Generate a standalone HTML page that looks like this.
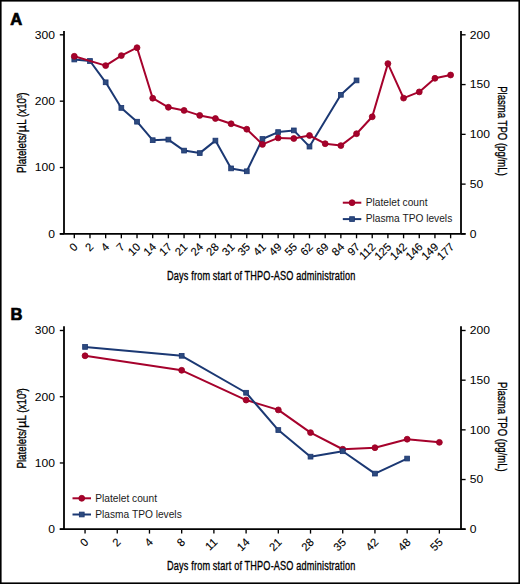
<!DOCTYPE html>
<html><head><meta charset="utf-8"><style>
html,body{margin:0;padding:0;background:#fff;}
body{width:520px;height:584px;overflow:hidden;}
svg{display:block;}
text{font-family:"Liberation Sans",sans-serif;fill:#000;}
.tk{font-size:11px;}
.tr{font-size:11.2px;stroke:#000;stroke-width:0.12;}
.lg{font-size:10.2px;fill:#1a1a1a;}
.ti{font-size:13px;stroke:#000;stroke-width:0.35;}
.sup{font-size:8px;stroke-width:0.2;}
.pl{font-size:16.6px;font-weight:bold;stroke:#000;stroke-width:0.7;}
</style></head><body>
<svg width="520" height="584" viewBox="0 0 520 584">
<rect x="0" y="0" width="520" height="584" fill="#fff"/>
<line x1="64" y1="31" x2="64" y2="233.9" stroke="#000" stroke-width="1.8"/>
<line x1="461" y1="31" x2="461" y2="233.9" stroke="#000" stroke-width="1.8"/>
<line x1="59.8" y1="233.9" x2="465.6" y2="233.9" stroke="#000" stroke-width="1.8"/>
<line x1="59.8" y1="34.8" x2="64" y2="34.8" stroke="#000" stroke-width="1.35"/>
<text class="tk" x="0" y="0" text-anchor="end" transform="translate(55.0 38.70) scale(1.1 1)">300</text>
<line x1="59.8" y1="101.17" x2="64" y2="101.17" stroke="#000" stroke-width="1.35"/>
<text class="tk" x="0" y="0" text-anchor="end" transform="translate(55.0 105.07) scale(1.1 1)">200</text>
<line x1="59.8" y1="167.53" x2="64" y2="167.53" stroke="#000" stroke-width="1.35"/>
<text class="tk" x="0" y="0" text-anchor="end" transform="translate(55.0 171.43) scale(1.1 1)">100</text>
<line x1="59.8" y1="233.9" x2="64" y2="233.9" stroke="#000" stroke-width="1.35"/>
<text class="tk" x="0" y="0" text-anchor="end" transform="translate(55.0 237.80) scale(1.1 1)">0</text>
<line x1="461" y1="34.8" x2="465.6" y2="34.8" stroke="#000" stroke-width="1.35"/>
<text class="tk" x="0" y="0" transform="translate(469.8 38.70) scale(1.1 1)">200</text>
<line x1="461" y1="84.57" x2="465.6" y2="84.57" stroke="#000" stroke-width="1.35"/>
<text class="tk" x="0" y="0" transform="translate(469.8 88.47) scale(1.1 1)">150</text>
<line x1="461" y1="134.35" x2="465.6" y2="134.35" stroke="#000" stroke-width="1.35"/>
<text class="tk" x="0" y="0" transform="translate(469.8 138.25) scale(1.1 1)">100</text>
<line x1="461" y1="184.12" x2="465.6" y2="184.12" stroke="#000" stroke-width="1.35"/>
<text class="tk" x="0" y="0" transform="translate(469.8 188.02) scale(1.1 1)">50</text>
<line x1="461" y1="233.9" x2="465.6" y2="233.9" stroke="#000" stroke-width="1.35"/>
<text class="tk" x="0" y="0" transform="translate(469.8 237.80) scale(1.1 1)">0</text>
<line x1="74.30" y1="233.9" x2="74.30" y2="238.30" stroke="#000" stroke-width="1.35"/>
<text class="tr" x="78.50" y="247.60" text-anchor="end" transform="rotate(-45 78.50 247.60)">0</text>
<line x1="89.98" y1="233.9" x2="89.98" y2="238.30" stroke="#000" stroke-width="1.35"/>
<text class="tr" x="94.18" y="247.60" text-anchor="end" transform="rotate(-45 94.18 247.60)">2</text>
<line x1="105.66" y1="233.9" x2="105.66" y2="238.30" stroke="#000" stroke-width="1.35"/>
<text class="tr" x="109.86" y="247.60" text-anchor="end" transform="rotate(-45 109.86 247.60)">4</text>
<line x1="121.34" y1="233.9" x2="121.34" y2="238.30" stroke="#000" stroke-width="1.35"/>
<text class="tr" x="125.54" y="247.60" text-anchor="end" transform="rotate(-45 125.54 247.60)">7</text>
<line x1="137.02" y1="233.9" x2="137.02" y2="238.30" stroke="#000" stroke-width="1.35"/>
<text class="tr" x="141.22" y="247.60" text-anchor="end" transform="rotate(-45 141.22 247.60)">10</text>
<line x1="152.70" y1="233.9" x2="152.70" y2="238.30" stroke="#000" stroke-width="1.35"/>
<text class="tr" x="156.90" y="247.60" text-anchor="end" transform="rotate(-45 156.90 247.60)">14</text>
<line x1="168.38" y1="233.9" x2="168.38" y2="238.30" stroke="#000" stroke-width="1.35"/>
<text class="tr" x="172.58" y="247.60" text-anchor="end" transform="rotate(-45 172.58 247.60)">17</text>
<line x1="184.06" y1="233.9" x2="184.06" y2="238.30" stroke="#000" stroke-width="1.35"/>
<text class="tr" x="188.26" y="247.60" text-anchor="end" transform="rotate(-45 188.26 247.60)">21</text>
<line x1="199.74" y1="233.9" x2="199.74" y2="238.30" stroke="#000" stroke-width="1.35"/>
<text class="tr" x="203.94" y="247.60" text-anchor="end" transform="rotate(-45 203.94 247.60)">24</text>
<line x1="215.42" y1="233.9" x2="215.42" y2="238.30" stroke="#000" stroke-width="1.35"/>
<text class="tr" x="219.62" y="247.60" text-anchor="end" transform="rotate(-45 219.62 247.60)">28</text>
<line x1="231.10" y1="233.9" x2="231.10" y2="238.30" stroke="#000" stroke-width="1.35"/>
<text class="tr" x="235.30" y="247.60" text-anchor="end" transform="rotate(-45 235.30 247.60)">31</text>
<line x1="246.78" y1="233.9" x2="246.78" y2="238.30" stroke="#000" stroke-width="1.35"/>
<text class="tr" x="250.98" y="247.60" text-anchor="end" transform="rotate(-45 250.98 247.60)">35</text>
<line x1="262.46" y1="233.9" x2="262.46" y2="238.30" stroke="#000" stroke-width="1.35"/>
<text class="tr" x="266.66" y="247.60" text-anchor="end" transform="rotate(-45 266.66 247.60)">41</text>
<line x1="278.14" y1="233.9" x2="278.14" y2="238.30" stroke="#000" stroke-width="1.35"/>
<text class="tr" x="282.34" y="247.60" text-anchor="end" transform="rotate(-45 282.34 247.60)">49</text>
<line x1="293.82" y1="233.9" x2="293.82" y2="238.30" stroke="#000" stroke-width="1.35"/>
<text class="tr" x="298.02" y="247.60" text-anchor="end" transform="rotate(-45 298.02 247.60)">55</text>
<line x1="309.50" y1="233.9" x2="309.50" y2="238.30" stroke="#000" stroke-width="1.35"/>
<text class="tr" x="313.70" y="247.60" text-anchor="end" transform="rotate(-45 313.70 247.60)">62</text>
<line x1="325.18" y1="233.9" x2="325.18" y2="238.30" stroke="#000" stroke-width="1.35"/>
<text class="tr" x="329.38" y="247.60" text-anchor="end" transform="rotate(-45 329.38 247.60)">69</text>
<line x1="340.86" y1="233.9" x2="340.86" y2="238.30" stroke="#000" stroke-width="1.35"/>
<text class="tr" x="345.06" y="247.60" text-anchor="end" transform="rotate(-45 345.06 247.60)">84</text>
<line x1="356.54" y1="233.9" x2="356.54" y2="238.30" stroke="#000" stroke-width="1.35"/>
<text class="tr" x="360.74" y="247.60" text-anchor="end" transform="rotate(-45 360.74 247.60)">97</text>
<line x1="372.22" y1="233.9" x2="372.22" y2="238.30" stroke="#000" stroke-width="1.35"/>
<text class="tr" x="376.42" y="247.60" text-anchor="end" transform="rotate(-45 376.42 247.60)">112</text>
<line x1="387.90" y1="233.9" x2="387.90" y2="238.30" stroke="#000" stroke-width="1.35"/>
<text class="tr" x="392.10" y="247.60" text-anchor="end" transform="rotate(-45 392.10 247.60)">125</text>
<line x1="403.58" y1="233.9" x2="403.58" y2="238.30" stroke="#000" stroke-width="1.35"/>
<text class="tr" x="407.78" y="247.60" text-anchor="end" transform="rotate(-45 407.78 247.60)">142</text>
<line x1="419.26" y1="233.9" x2="419.26" y2="238.30" stroke="#000" stroke-width="1.35"/>
<text class="tr" x="423.46" y="247.60" text-anchor="end" transform="rotate(-45 423.46 247.60)">146</text>
<line x1="434.94" y1="233.9" x2="434.94" y2="238.30" stroke="#000" stroke-width="1.35"/>
<text class="tr" x="439.14" y="247.60" text-anchor="end" transform="rotate(-45 439.14 247.60)">149</text>
<line x1="450.62" y1="233.9" x2="450.62" y2="238.30" stroke="#000" stroke-width="1.35"/>
<text class="tr" x="454.82" y="247.60" text-anchor="end" transform="rotate(-45 454.82 247.60)">177</text>
<path d="M74.30,59.50 L89.98,61.00 L105.66,82.30 L121.34,107.90 L137.02,121.70 L152.70,140.20 L168.38,139.60 L184.06,150.60 L199.74,153.10 L215.42,140.60 L231.10,168.40 L246.78,171.30 L262.46,139.00 L278.14,132.10 L293.82,130.40 L309.50,146.60 L340.86,94.80 L356.54,80.40" fill="none" stroke="#1B3873" stroke-width="2.0" stroke-linejoin="round"/>
<rect x="71.90" y="57.10" width="4.8" height="4.8" fill="#2D4A7E" stroke="#1B3671" stroke-width="0.8"/>
<rect x="87.58" y="58.60" width="4.8" height="4.8" fill="#2D4A7E" stroke="#1B3671" stroke-width="0.8"/>
<rect x="103.26" y="79.90" width="4.8" height="4.8" fill="#2D4A7E" stroke="#1B3671" stroke-width="0.8"/>
<rect x="118.94" y="105.50" width="4.8" height="4.8" fill="#2D4A7E" stroke="#1B3671" stroke-width="0.8"/>
<rect x="134.62" y="119.30" width="4.8" height="4.8" fill="#2D4A7E" stroke="#1B3671" stroke-width="0.8"/>
<rect x="150.30" y="137.80" width="4.8" height="4.8" fill="#2D4A7E" stroke="#1B3671" stroke-width="0.8"/>
<rect x="165.98" y="137.20" width="4.8" height="4.8" fill="#2D4A7E" stroke="#1B3671" stroke-width="0.8"/>
<rect x="181.66" y="148.20" width="4.8" height="4.8" fill="#2D4A7E" stroke="#1B3671" stroke-width="0.8"/>
<rect x="197.34" y="150.70" width="4.8" height="4.8" fill="#2D4A7E" stroke="#1B3671" stroke-width="0.8"/>
<rect x="213.02" y="138.20" width="4.8" height="4.8" fill="#2D4A7E" stroke="#1B3671" stroke-width="0.8"/>
<rect x="228.70" y="166.00" width="4.8" height="4.8" fill="#2D4A7E" stroke="#1B3671" stroke-width="0.8"/>
<rect x="244.38" y="168.90" width="4.8" height="4.8" fill="#2D4A7E" stroke="#1B3671" stroke-width="0.8"/>
<rect x="260.06" y="136.60" width="4.8" height="4.8" fill="#2D4A7E" stroke="#1B3671" stroke-width="0.8"/>
<rect x="275.74" y="129.70" width="4.8" height="4.8" fill="#2D4A7E" stroke="#1B3671" stroke-width="0.8"/>
<rect x="291.42" y="128.00" width="4.8" height="4.8" fill="#2D4A7E" stroke="#1B3671" stroke-width="0.8"/>
<rect x="307.10" y="144.20" width="4.8" height="4.8" fill="#2D4A7E" stroke="#1B3671" stroke-width="0.8"/>
<rect x="338.46" y="92.40" width="4.8" height="4.8" fill="#2D4A7E" stroke="#1B3671" stroke-width="0.8"/>
<rect x="354.14" y="78.00" width="4.8" height="4.8" fill="#2D4A7E" stroke="#1B3671" stroke-width="0.8"/>
<path d="M74.30,56.30 L105.66,65.60 L121.34,55.60 L137.02,47.70 L152.70,98.20 L168.38,107.30 L184.06,110.40 L199.74,115.40 L215.42,118.50 L231.10,123.80 L246.78,129.20 L262.46,144.40 L278.14,137.90 L293.82,138.50 L309.50,135.50 L325.18,143.70 L340.86,145.60 L356.54,133.70 L372.22,116.80 L387.90,63.60 L403.58,98.10 L419.26,91.90 L434.94,78.30 L450.62,75.00" fill="none" stroke="#A6022C" stroke-width="2.0" stroke-linejoin="round"/>
<circle cx="74.30" cy="56.30" r="2.95" fill="#A5022D" stroke="#9A0020" stroke-width="0.8"/>
<circle cx="105.66" cy="65.60" r="2.95" fill="#A5022D" stroke="#9A0020" stroke-width="0.8"/>
<circle cx="121.34" cy="55.60" r="2.95" fill="#A5022D" stroke="#9A0020" stroke-width="0.8"/>
<circle cx="137.02" cy="47.70" r="2.95" fill="#A5022D" stroke="#9A0020" stroke-width="0.8"/>
<circle cx="152.70" cy="98.20" r="2.95" fill="#A5022D" stroke="#9A0020" stroke-width="0.8"/>
<circle cx="168.38" cy="107.30" r="2.95" fill="#A5022D" stroke="#9A0020" stroke-width="0.8"/>
<circle cx="184.06" cy="110.40" r="2.95" fill="#A5022D" stroke="#9A0020" stroke-width="0.8"/>
<circle cx="199.74" cy="115.40" r="2.95" fill="#A5022D" stroke="#9A0020" stroke-width="0.8"/>
<circle cx="215.42" cy="118.50" r="2.95" fill="#A5022D" stroke="#9A0020" stroke-width="0.8"/>
<circle cx="231.10" cy="123.80" r="2.95" fill="#A5022D" stroke="#9A0020" stroke-width="0.8"/>
<circle cx="246.78" cy="129.20" r="2.95" fill="#A5022D" stroke="#9A0020" stroke-width="0.8"/>
<circle cx="262.46" cy="144.40" r="2.95" fill="#A5022D" stroke="#9A0020" stroke-width="0.8"/>
<circle cx="278.14" cy="137.90" r="2.95" fill="#A5022D" stroke="#9A0020" stroke-width="0.8"/>
<circle cx="293.82" cy="138.50" r="2.95" fill="#A5022D" stroke="#9A0020" stroke-width="0.8"/>
<circle cx="309.50" cy="135.50" r="2.95" fill="#A5022D" stroke="#9A0020" stroke-width="0.8"/>
<circle cx="325.18" cy="143.70" r="2.95" fill="#A5022D" stroke="#9A0020" stroke-width="0.8"/>
<circle cx="340.86" cy="145.60" r="2.95" fill="#A5022D" stroke="#9A0020" stroke-width="0.8"/>
<circle cx="356.54" cy="133.70" r="2.95" fill="#A5022D" stroke="#9A0020" stroke-width="0.8"/>
<circle cx="372.22" cy="116.80" r="2.95" fill="#A5022D" stroke="#9A0020" stroke-width="0.8"/>
<circle cx="387.90" cy="63.60" r="2.95" fill="#A5022D" stroke="#9A0020" stroke-width="0.8"/>
<circle cx="403.58" cy="98.10" r="2.95" fill="#A5022D" stroke="#9A0020" stroke-width="0.8"/>
<circle cx="419.26" cy="91.90" r="2.95" fill="#A5022D" stroke="#9A0020" stroke-width="0.8"/>
<circle cx="434.94" cy="78.30" r="2.95" fill="#A5022D" stroke="#9A0020" stroke-width="0.8"/>
<circle cx="450.62" cy="75.00" r="2.95" fill="#A5022D" stroke="#9A0020" stroke-width="0.8"/>
<line x1="342.8" y1="202.7" x2="361.3" y2="202.7" stroke="#A6022C" stroke-width="2.0"/>
<circle cx="352.05" cy="202.7" r="2.95" fill="#A5022D" stroke="#9A0020" stroke-width="0.8"/>
<line x1="342.8" y1="219.1" x2="361.3" y2="219.1" stroke="#1B3873" stroke-width="2.0"/>
<rect x="349.65" y="216.7" width="4.8" height="4.8" fill="#2D4A7E" stroke="#1B3671" stroke-width="0.8"/>
<text class="lg" x="365.8" y="206.1">Platelet count</text>
<text class="lg" x="365.8" y="222.4">Plasma TPO levels</text>
<text class="ti" style="font-size:13.7px;letter-spacing:0.25px" x="0" y="0" transform="translate(167.1 279.7) scale(0.667 1)">Days from start of THPO-ASO administration</text>
<text class="ti" x="0" y="0" transform="translate(26.1 172.90) rotate(-90) scale(0.751 1)">Platelets/</text>
<text class="ti" x="0" y="0" transform="translate(26.1 132.39) rotate(-90)">µ</text>
<text class="ti" x="0" y="0" transform="translate(26.1 124.70) rotate(-90) scale(0.75 1)">L (x10<tspan class="sup" dx="-0.6" dy="-4.3">3</tspan><tspan dx="-0.8" dy="4.3">)</tspan></text>
<text class="ti" x="0" y="0" transform="translate(498.1 86.2) rotate(90) scale(0.736 1)">Plasma TPO (pg/mL)</text>
<text class="pl" x="10.2" y="24.6">A</text>
<line x1="64" y1="326.3" x2="64" y2="529.2" stroke="#000" stroke-width="1.8"/>
<line x1="461" y1="326.3" x2="461" y2="529.2" stroke="#000" stroke-width="1.8"/>
<line x1="59.8" y1="529.2" x2="465.6" y2="529.2" stroke="#000" stroke-width="1.8"/>
<line x1="59.8" y1="330.5" x2="64" y2="330.5" stroke="#000" stroke-width="1.35"/>
<text class="tk" x="0" y="0" text-anchor="end" transform="translate(55.0 334.40) scale(1.1 1)">300</text>
<line x1="59.8" y1="396.73" x2="64" y2="396.73" stroke="#000" stroke-width="1.35"/>
<text class="tk" x="0" y="0" text-anchor="end" transform="translate(55.0 400.63) scale(1.1 1)">200</text>
<line x1="59.8" y1="462.97" x2="64" y2="462.97" stroke="#000" stroke-width="1.35"/>
<text class="tk" x="0" y="0" text-anchor="end" transform="translate(55.0 466.87) scale(1.1 1)">100</text>
<line x1="59.8" y1="529.2" x2="64" y2="529.2" stroke="#000" stroke-width="1.35"/>
<text class="tk" x="0" y="0" text-anchor="end" transform="translate(55.0 533.10) scale(1.1 1)">0</text>
<line x1="461" y1="330.5" x2="465.6" y2="330.5" stroke="#000" stroke-width="1.35"/>
<text class="tk" x="0" y="0" transform="translate(469.8 334.40) scale(1.1 1)">200</text>
<line x1="461" y1="380.18" x2="465.6" y2="380.18" stroke="#000" stroke-width="1.35"/>
<text class="tk" x="0" y="0" transform="translate(469.8 384.08) scale(1.1 1)">150</text>
<line x1="461" y1="429.85" x2="465.6" y2="429.85" stroke="#000" stroke-width="1.35"/>
<text class="tk" x="0" y="0" transform="translate(469.8 433.75) scale(1.1 1)">100</text>
<line x1="461" y1="479.53" x2="465.6" y2="479.53" stroke="#000" stroke-width="1.35"/>
<text class="tk" x="0" y="0" transform="translate(469.8 483.43) scale(1.1 1)">50</text>
<line x1="461" y1="529.2" x2="465.6" y2="529.2" stroke="#000" stroke-width="1.35"/>
<text class="tk" x="0" y="0" transform="translate(469.8 533.10) scale(1.1 1)">0</text>
<line x1="85.05" y1="529.2" x2="85.05" y2="533.60" stroke="#000" stroke-width="1.35"/>
<text class="tr" x="89.25" y="542.90" text-anchor="end" transform="rotate(-45 89.25 542.90)">0</text>
<line x1="117.26" y1="529.2" x2="117.26" y2="533.60" stroke="#000" stroke-width="1.35"/>
<text class="tr" x="121.46" y="542.90" text-anchor="end" transform="rotate(-45 121.46 542.90)">2</text>
<line x1="149.47" y1="529.2" x2="149.47" y2="533.60" stroke="#000" stroke-width="1.35"/>
<text class="tr" x="153.67" y="542.90" text-anchor="end" transform="rotate(-45 153.67 542.90)">4</text>
<line x1="181.68" y1="529.2" x2="181.68" y2="533.60" stroke="#000" stroke-width="1.35"/>
<text class="tr" x="185.88" y="542.90" text-anchor="end" transform="rotate(-45 185.88 542.90)">8</text>
<line x1="213.89" y1="529.2" x2="213.89" y2="533.60" stroke="#000" stroke-width="1.35"/>
<text class="tr" x="218.09" y="542.90" text-anchor="end" transform="rotate(-45 218.09 542.90)">11</text>
<line x1="246.10" y1="529.2" x2="246.10" y2="533.60" stroke="#000" stroke-width="1.35"/>
<text class="tr" x="250.30" y="542.90" text-anchor="end" transform="rotate(-45 250.30 542.90)">14</text>
<line x1="278.31" y1="529.2" x2="278.31" y2="533.60" stroke="#000" stroke-width="1.35"/>
<text class="tr" x="282.51" y="542.90" text-anchor="end" transform="rotate(-45 282.51 542.90)">21</text>
<line x1="310.52" y1="529.2" x2="310.52" y2="533.60" stroke="#000" stroke-width="1.35"/>
<text class="tr" x="314.72" y="542.90" text-anchor="end" transform="rotate(-45 314.72 542.90)">28</text>
<line x1="342.73" y1="529.2" x2="342.73" y2="533.60" stroke="#000" stroke-width="1.35"/>
<text class="tr" x="346.93" y="542.90" text-anchor="end" transform="rotate(-45 346.93 542.90)">35</text>
<line x1="374.94" y1="529.2" x2="374.94" y2="533.60" stroke="#000" stroke-width="1.35"/>
<text class="tr" x="379.14" y="542.90" text-anchor="end" transform="rotate(-45 379.14 542.90)">42</text>
<line x1="407.15" y1="529.2" x2="407.15" y2="533.60" stroke="#000" stroke-width="1.35"/>
<text class="tr" x="411.35" y="542.90" text-anchor="end" transform="rotate(-45 411.35 542.90)">48</text>
<line x1="439.36" y1="529.2" x2="439.36" y2="533.60" stroke="#000" stroke-width="1.35"/>
<text class="tr" x="443.56" y="542.90" text-anchor="end" transform="rotate(-45 443.56 542.90)">55</text>
<path d="M85.05,355.80 L181.68,370.30 L246.10,400.05 L278.31,409.90 L310.52,432.60 L342.73,449.25 L374.94,447.70 L407.15,439.20 L439.36,442.35" fill="none" stroke="#A6022C" stroke-width="2.0" stroke-linejoin="round"/>
<circle cx="85.05" cy="355.80" r="2.95" fill="#A5022D" stroke="#9A0020" stroke-width="0.8"/>
<circle cx="181.68" cy="370.30" r="2.95" fill="#A5022D" stroke="#9A0020" stroke-width="0.8"/>
<circle cx="246.10" cy="400.05" r="2.95" fill="#A5022D" stroke="#9A0020" stroke-width="0.8"/>
<circle cx="278.31" cy="409.90" r="2.95" fill="#A5022D" stroke="#9A0020" stroke-width="0.8"/>
<circle cx="310.52" cy="432.60" r="2.95" fill="#A5022D" stroke="#9A0020" stroke-width="0.8"/>
<circle cx="342.73" cy="449.25" r="2.95" fill="#A5022D" stroke="#9A0020" stroke-width="0.8"/>
<circle cx="374.94" cy="447.70" r="2.95" fill="#A5022D" stroke="#9A0020" stroke-width="0.8"/>
<circle cx="407.15" cy="439.20" r="2.95" fill="#A5022D" stroke="#9A0020" stroke-width="0.8"/>
<circle cx="439.36" cy="442.35" r="2.95" fill="#A5022D" stroke="#9A0020" stroke-width="0.8"/>
<path d="M85.05,346.90 L181.68,355.80 L246.10,392.75 L278.31,430.05 L310.52,456.65 L342.73,451.25 L374.94,473.60 L407.15,458.55" fill="none" stroke="#1B3873" stroke-width="2.0" stroke-linejoin="round"/>
<rect x="82.65" y="344.50" width="4.8" height="4.8" fill="#2D4A7E" stroke="#1B3671" stroke-width="0.8"/>
<rect x="179.28" y="353.40" width="4.8" height="4.8" fill="#2D4A7E" stroke="#1B3671" stroke-width="0.8"/>
<rect x="243.70" y="390.35" width="4.8" height="4.8" fill="#2D4A7E" stroke="#1B3671" stroke-width="0.8"/>
<rect x="275.91" y="427.65" width="4.8" height="4.8" fill="#2D4A7E" stroke="#1B3671" stroke-width="0.8"/>
<rect x="308.12" y="454.25" width="4.8" height="4.8" fill="#2D4A7E" stroke="#1B3671" stroke-width="0.8"/>
<rect x="340.33" y="448.85" width="4.8" height="4.8" fill="#2D4A7E" stroke="#1B3671" stroke-width="0.8"/>
<rect x="372.54" y="471.20" width="4.8" height="4.8" fill="#2D4A7E" stroke="#1B3671" stroke-width="0.8"/>
<rect x="404.75" y="456.15" width="4.8" height="4.8" fill="#2D4A7E" stroke="#1B3671" stroke-width="0.8"/>
<line x1="72.5" y1="498.3" x2="91.0" y2="498.3" stroke="#A6022C" stroke-width="2.0"/>
<circle cx="81.75" cy="498.3" r="2.95" fill="#A5022D" stroke="#9A0020" stroke-width="0.8"/>
<line x1="72.5" y1="514.5" x2="91.0" y2="514.5" stroke="#1B3873" stroke-width="2.0"/>
<rect x="79.35000000000001" y="512.1" width="4.8" height="4.8" fill="#2D4A7E" stroke="#1B3671" stroke-width="0.8"/>
<text class="lg" x="95.3" y="501.5">Platelet count</text>
<text class="lg" x="95.3" y="517.7">Plasma TPO levels</text>
<text class="ti" style="font-size:13.7px;letter-spacing:0.25px" x="0" y="0" transform="translate(167.1 570.2) scale(0.667 1)">Days from start of THPO-ASO administration</text>
<text class="ti" x="0" y="0" transform="translate(26.1 468.60) rotate(-90) scale(0.751 1)">Platelets/</text>
<text class="ti" x="0" y="0" transform="translate(26.1 428.09) rotate(-90)">µ</text>
<text class="ti" x="0" y="0" transform="translate(26.1 420.40) rotate(-90) scale(0.75 1)">L (x10<tspan class="sup" dx="-0.6" dy="-4.3">3</tspan><tspan dx="-0.8" dy="4.3">)</tspan></text>
<text class="ti" x="0" y="0" transform="translate(498.1 382.09999999999997) rotate(90) scale(0.736 1)">Plasma TPO (pg/mL)</text>
<text class="pl" x="10.6" y="319.9">B</text>
<rect x="0.8" y="0.8" width="518.4" height="582.4" fill="none" stroke="#000" stroke-width="1.6"/>
</svg>
</body></html>
